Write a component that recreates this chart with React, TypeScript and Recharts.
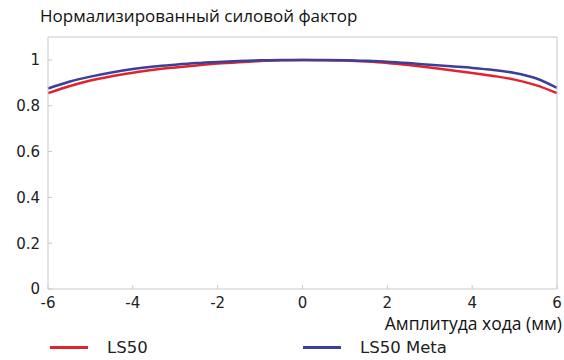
import { LineChart, Line, XAxis, YAxis } from 'recharts';

// Амплитуда хода, мм
const strokeMm = [-6, -5.5, -5, -4.5, -4, -3.5, -3, -2.5, -2, -1.5, -1, -0.5, 0, 0.5, 1, 1.5, 2, 2.5, 3, 3.5, 4, 4.5, 5, 5.5, 6];

const ls50 = [0.855, 0.885, 0.91, 0.929, 0.944, 0.957, 0.967, 0.976, 0.984, 0.99, 0.995, 0.998, 1.0, 0.999, 0.997, 0.993, 0.987, 0.978, 0.967, 0.955, 0.943, 0.93, 0.914, 0.89, 0.855];
const ls50Meta = [0.875, 0.905, 0.927, 0.945, 0.96, 0.971, 0.979, 0.986, 0.991, 0.995, 0.998, 1.0, 1.0, 1.0, 0.999, 0.996, 0.992, 0.986, 0.979, 0.972, 0.965, 0.956, 0.943, 0.92, 0.878];

const xTicks = [-6, -4, -2, 0, 2, 4, 6];
const yTicks = [0, 0.2, 0.4, 0.6, 0.8, 1];

const series = [
  { key: 'ls50', name: 'LS50', color: '#e0242f' },
  { key: 'ls50Meta', name: 'LS50 Meta', color: '#3a3f98' },
];

const data = strokeMm.map((x, i) => ({ x, ls50: ls50[i], ls50Meta: ls50Meta[i] }));

const boxColor = '#c9c9c9';
const tickFont = { fontSize: 15, fill: '#222', fontFamily: 'DejaVu Sans' };

export default function App() {
  return (
    <div style={{ position: 'absolute', left: 0, top: 0, width: 564, height: 360, background: '#fff' }}>
      <div style={{ position: 'absolute', left: 40, top: 4, fontFamily: 'Open Sans', fontSize: 17, color: '#111', whiteSpace: 'nowrap' }}>
        Нормализированный силовой фактор
      </div>
      <LineChart width={564} height={360} data={data} margin={{ top: 37, right: 7, left: 0, bottom: 41 }}>
        <XAxis
          dataKey="x"
          type="number"
          domain={[-6, 6]}
          ticks={xTicks}
          stroke={boxColor}
          tickSize={-4}
          tickMargin={12}
          tick={tickFont}
          height={30}
        />
        <XAxis xAxisId="top" orientation="top" mirror type="number" domain={[-6, 6]} ticks={xTicks} stroke={boxColor} tickSize={4} tick={false} height={30} />
        <YAxis
          type="number"
          domain={[0, 1.1]}
          ticks={yTicks}
          stroke={boxColor}
          tickSize={-4}
          tickMargin={12}
          tick={tickFont}
          width={48}
          allowDataOverflow
        />
        <YAxis yAxisId="right" orientation="right" mirror type="number" domain={[0, 1.1]} ticks={yTicks} stroke={boxColor} tickSize={4} tick={false} width={30} />
        {series.map((s) => (
          <Line key={s.key} dataKey={s.key} name={s.name} type="monotone" stroke={s.color} strokeWidth={2.5} dot={false} isAnimationActive={false} />
        ))}
      </LineChart>
      <div style={{ position: 'absolute', right: 2, top: 312, fontFamily: 'Open Sans', fontSize: 17.5, lineHeight: '22px', color: '#111', whiteSpace: 'nowrap' }}>
        Амплитуда хода (мм)
      </div>
      {series.map((s, i) => (
        <div key={s.key} style={{ position: 'absolute', left: i === 0 ? 50 : 303, top: 338, display: 'flex', alignItems: 'center', fontFamily: 'DejaVu Sans', fontSize: 16.5, color: '#222' }}>
          <span style={{ display: 'inline-block', width: 38, height: 3, background: s.color, marginRight: 19 }} />
          {s.name}
        </div>
      ))}
    </div>
  );
}
